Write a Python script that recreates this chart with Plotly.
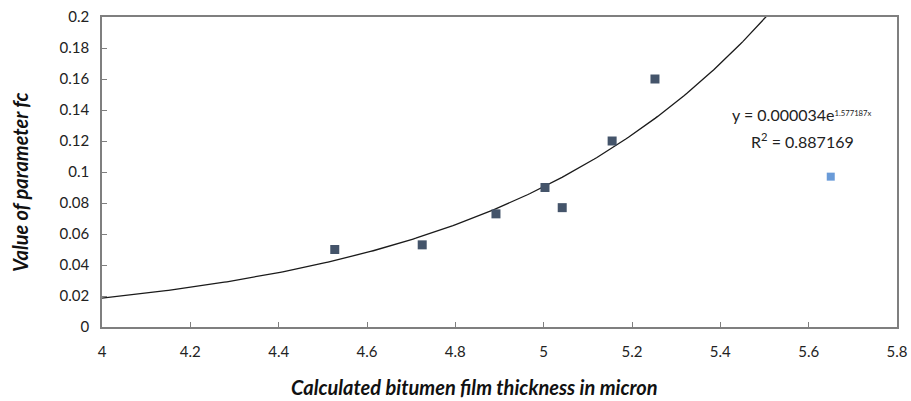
import numpy as np
import plotly.graph_objects as go

# Data
x_vals = [4.527, 4.725, 4.892, 5.003, 5.042, 5.155, 5.252]
y_vals = [0.050, 0.053, 0.073, 0.090, 0.077, 0.120, 0.160]
outlier_x = [5.650]
outlier_y = [0.097]

# Trendline coefficients shown on the chart
coef_a = 0.000034
coef_b = 1.577187

x_ticks = [4, 4.2, 4.4, 4.6, 4.8, 5, 5.2, 5.4, 5.6, 5.8]
x_tick_labels = ["4", "4.2", "4.4", "4.6", "4.8", "5", "5.2", "5.4", "5.6", "5.8"]
y_ticks = [0, 0.02, 0.04, 0.06, 0.08, 0.1, 0.12, 0.14, 0.16, 0.18, 0.2]
y_tick_labels = ["0", "0.02", "0.04", "0.06", "0.08", "0.1", "0.12", "0.14", "0.16", "0.18", "0.2"]

x_title = "Calculated bitumen film thickness in micron"
y_title = "Value of parameter fc"

trend_x = np.linspace(4.0, 5.8, 300)
trend_y = coef_a * np.exp(coef_b * trend_x)

FONT = "Lato, 'Open Sans', sans-serif"

fig = go.Figure()
fig.add_trace(go.Scatter(x=trend_x, y=trend_y, mode="lines",
                         line=dict(color="#1a1a1a", width=1.3), hoverinfo="skip"))
fig.add_trace(go.Scatter(x=x_vals, y=y_vals, mode="markers",
                         marker=dict(symbol="square", size=9, color="#44546A")))
fig.add_trace(go.Scatter(x=outlier_x, y=outlier_y, mode="markers",
                         marker=dict(symbol="square", size=8, color="#6A9BD8")))

fig.add_annotation(x=5.585, y=0.1368, xref="x", yref="y",
                   text=f"y = {coef_a:.6f}e<span style='font-size:11px'><sup>{coef_b}x</sup></span>",
                   showarrow=False, xanchor="center", yanchor="middle",
                   font=dict(family=FONT, size=16, color="#222"))
fig.add_annotation(x=5.585, y=0.1206, xref="x", yref="y",
                   text="R<sup>2</sup> = 0.887169",
                   showarrow=False, xanchor="center", yanchor="middle",
                   font=dict(family=FONT, size=16, color="#222"))

# Axis titles as annotations (fixed positions)
fig.add_annotation(x=0.469, y=-0.194, xref="paper", yref="paper",
                   text=f"<b><i>{x_title}</i></b>", showarrow=False,
                   xanchor="center", yanchor="middle",
                   font=dict(family=FONT, size=20, color="#111"))
fig.add_annotation(x=-0.103, y=0.468, xref="paper", yref="paper",
                   text=f"<b><i>{y_title}</i></b>", showarrow=False, textangle=-90,
                   xanchor="center", yanchor="middle",
                   font=dict(family=FONT, size=20, color="#111"))

fig.update_layout(
    width=911, height=401,
    margin=dict(l=102, r=14, t=17, b=74, autoexpand=False),
    paper_bgcolor="white", plot_bgcolor="white",
    showlegend=False,
    font=dict(family=FONT, size=15, color="#222"),
    xaxis=dict(range=[4, 5.8], tickvals=x_ticks, ticktext=x_tick_labels,
               showgrid=False, zeroline=False, showline=True, mirror=True,
               linecolor="#7f7f7f", linewidth=1.5, ticks="inside", ticklen=5,
               tickcolor="#7f7f7f", automargin=False, ticklabelstandoff=10,
               ticklabeloverflow="allow"),
    yaxis=dict(range=[0, 0.2], tickvals=y_ticks, ticktext=y_tick_labels,
               showgrid=False, zeroline=False, showline=True, mirror=True,
               linecolor="#7f7f7f", linewidth=1.5, ticks="inside", ticklen=5,
               tickcolor="#7f7f7f", automargin=False, ticklabelstandoff=8,
               ticklabeloverflow="allow"),
)

fig.write_html("out.html",
               config={"displayModeBar": False},
               post_script="document.body.style.margin='0';document.body.style.overflow='hidden';")
